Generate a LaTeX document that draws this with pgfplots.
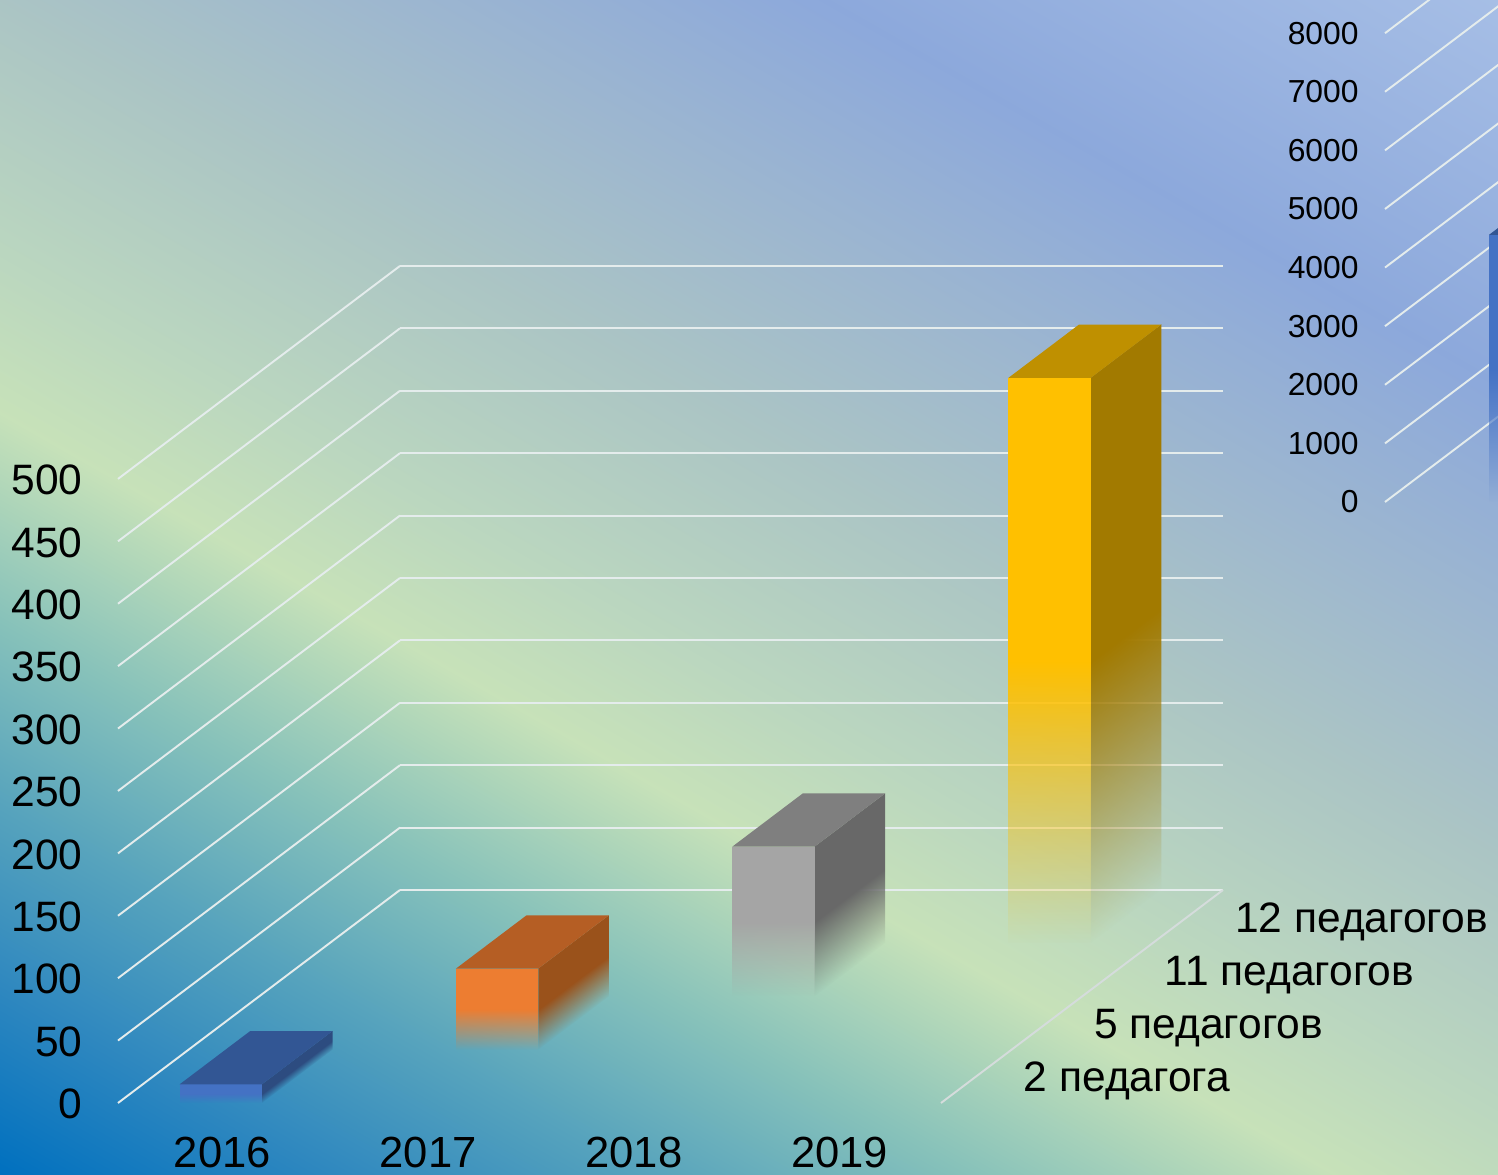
\documentclass[border=0pt]{standalone}
\usepackage{fontspec}
\setmainfont{Liberation Sans}
\usepackage{pgfplots}
\pgfplotsset{compat=1.18}
\usetikzlibrary{fadings}

\definecolor{gridc}{RGB}{228,236,236}
\definecolor{bar1f}{RGB}{68,114,196}
\definecolor{bar1s}{RGB}{45,76,128}
\definecolor{bar1t}{RGB}{50,86,148}
\definecolor{bar2f}{RGB}{237,125,49}
\definecolor{bar2s}{RGB}{154,82,27}
\definecolor{bar2t}{RGB}{181,94,36}
\definecolor{bar3f}{RGB}{165,165,165}
\definecolor{bar3s}{RGB}{104,104,104}
\definecolor{bar3t}{RGB}{127,127,127}
\definecolor{bar4f}{RGB}{255,192,0}
\definecolor{bar4s}{RGB}{162,122,0}
\definecolor{bar4t}{RGB}{191,144,0}

% background: diagonal gradient, position s = 50+(t-881)/40
\pgfdeclareverticalshading{bgshade}{100bp}{
  rgb(0bp)=(0,.44,.75);
  rgb(28bp)=(0,.44,.75);
  rgb(32bp)=(.18,.53,.75);
  rgb(36bp)=(.34,.64,.74);
  rgb(40bp)=(.53,.76,.73);
  rgb(44.5bp)=(.78,.885,.725);
  rgb(48bp)=(.73,.84,.75);
  rgb(53.5bp)=(.67,.77,.77);
  rgb(58bp)=(.62,.72,.81);
  rgb(63.7bp)=(.55,.66,.86);
  rgb(72bp)=(.65,.745,.90);
  rgb(100bp)=(.65,.745,.90)}

\tikzfading[name=barfade,bottom color=transparent!100,top color=transparent!0,middle color=transparent!0]

% x0 x1 y0 y1 height | front side top | fade scale
\newcommand{\onebar}[9]{
  \addplot3[draw=none,fill=#7,mark=none,path fading=barfade,fit fading=false,
    fading transform={cm={.3997,.3019,0,#9,(axis cs:#2,#3+0.5,#5/2)}}]
    coordinates {(#2,#3,0) (#2,#4,0) (#2,#4,#5) (#2,#3,#5)};
  \addplot3[draw=none,fill=#6,mark=none,path fading=barfade]
    coordinates {(#1,#3,0) (#2,#3,0) (#2,#3,#5) (#1,#3,#5)};
  \addplot3[draw=none,fill=#8,mark=none]
    coordinates {(#1,#3,#5) (#2,#3,#5) (#2,#4,#5) (#1,#4,#5)};
}

\pgfplotsset{
  oblique/.style={
    disabledatascaling,
    clip=false,
    anchor=origin,
    y={(0.705cm,0.5325cm)},
    xmin=0,xmax=4,ymin=0,ymax=4,zmin=0,
    axis line style={draw=none},
    major tick length=0pt,
    tick style={draw=none},
    zmajorgrids=true,
    major grid style={draw=gridc,line width=0.55pt},
    /pgf/number format/assume math mode=true,
    /pgf/number format/set thousands separator={},
  }
}

\begin{document}
\begin{tikzpicture}
\useasboundingbox (0,0) rectangle (14.98,11.75);
\clip (0,0) rectangle (14.98,11.75);
\shade[shading=bgshade,shading angle=-29.7] (-2.51,-4.125) rectangle (17.49,15.875);

\begin{axis}[
    oblique,
    at={(1.18cm,0.72cm)},
    x={(2.0575cm,0)},
    z={(0,0.01248cm)},
    zmax=500,
    ztick={0,50,...,500},
    xtick={0.5,1.5,2.5,3.5},
    xticklabels={2016,2017,2018,2019},
    ytick={0.5,1.5,2.5,3.5},
    yticklabels={2 педагога,5 педагогов,11 педагогов,12 педагогов},
    tick label style={font=\fontsize{12.1}{14}\selectfont,text=black},
    zticklabel style={anchor=east,xshift=-6.6pt,yshift=-0.3pt},
    xticklabel style={anchor=north,yshift=-6.3pt,xshift=0.4pt,font=\fontsize{12.4}{14}\selectfont},
    yticklabel style={anchor=west,xshift=10pt,yshift=-1.4pt},
  ]
  \addplot3[draw=gridc!85!gray,line width=0.55pt,mark=none] coordinates {(4,0,0) (4,4,0)};
  \onebar{0.3}{0.7}{0}{1}{15}{bar1f}{bar1s}{bar1t}{0.106}
  \onebar{1.3}{1.7}{1}{2}{65}{bar2f}{bar2s}{bar2t}{0.46}
  \onebar{2.3}{2.7}{2}{3}{120}{bar3f}{bar3s}{bar3t}{0.849}
  \onebar{3.3}{3.7}{3}{4}{453}{bar4f}{bar4s}{bar4t}{3.205}
\end{axis}

% right chart, z in thousands (the unit vector is too small otherwise)
\begin{axis}[
    oblique,
    at={(13.85cm,6.73cm)},
    x={(3.47cm,0)},
    z={(0,0.586cm)},
    zmax=8,
    ztick={0,1,...,8},
    zticklabels={0,1000,2000,3000,4000,5000,6000,7000,8000},
    xtick=\empty,
    ytick=\empty,
    tick label style={font=\fontsize{9.05}{11}\selectfont,text=black},
    zticklabel style={anchor=east,xshift=-4pt},
  ]
  \onebar{0.3}{0.7}{0}{1}{4.56}{bar1f}{bar1s}{bar1t}{1.514}
\end{axis}
\end{tikzpicture}
\end{document}
